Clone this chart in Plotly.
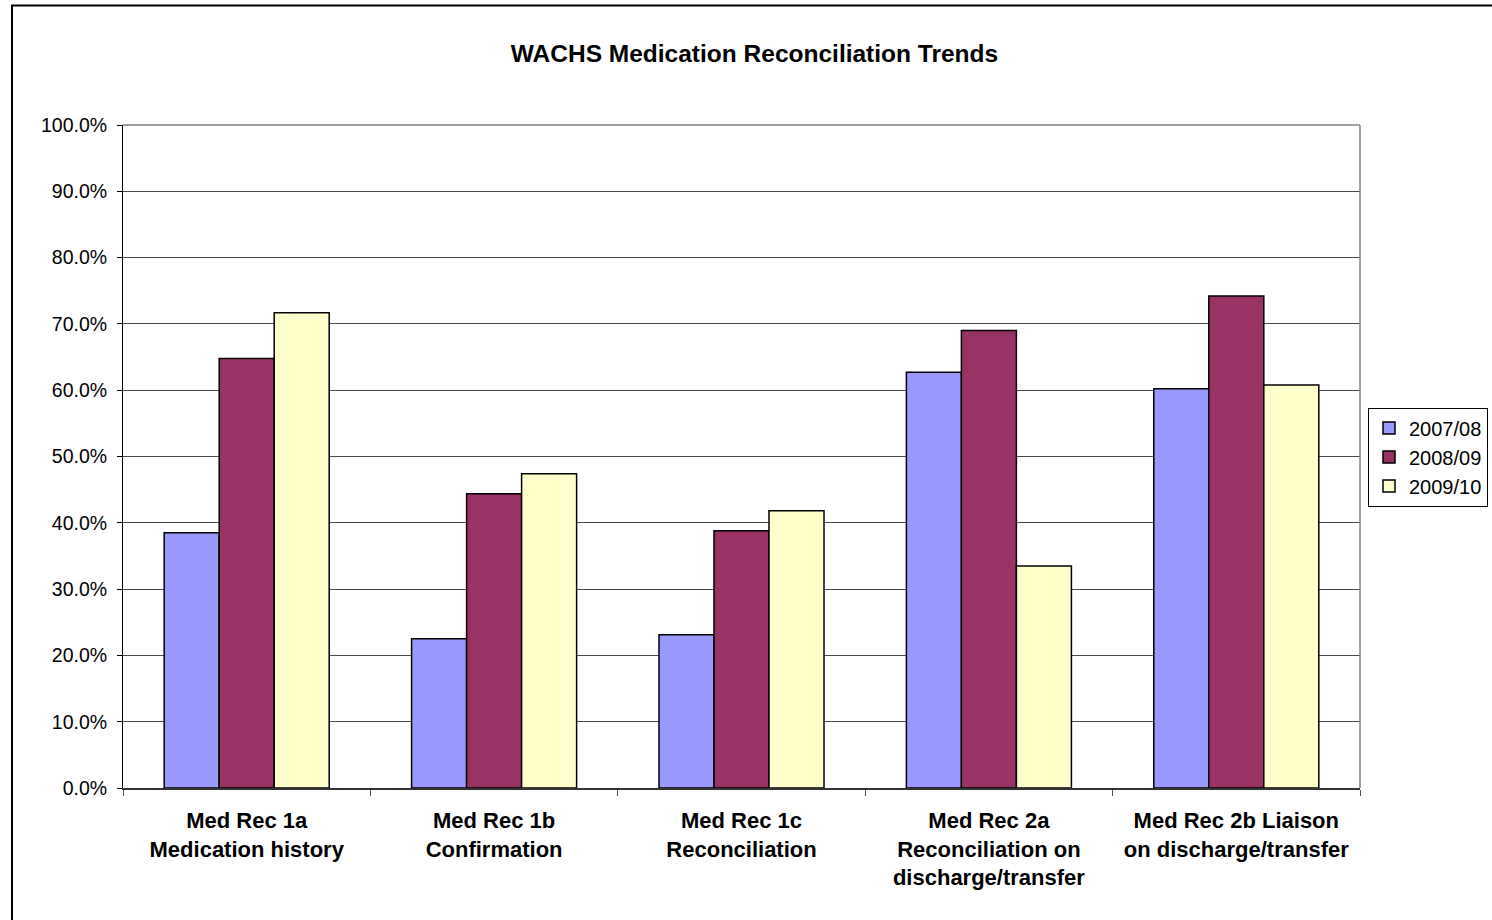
import plotly.graph_objects as go

# Medication reconciliation audit results by indicator and year (% compliant)
categories = [
    "Med Rec 1a<br>Medication history",
    "Med Rec 1b<br>Confirmation",
    "Med Rec 1c<br>Reconciliation",
    "Med Rec 2a<br>Reconciliation on<br>discharge/transfer",
    "Med Rec 2b Liaison<br>on discharge/transfer",
]
years = ["2007/08", "2008/09", "2009/10"]
values_2007_08 = [38.5, 22.5, 23.1, 62.7, 60.2]
values_2008_09 = [64.8, 44.4, 38.8, 69.0, 74.2]
values_2009_10 = [71.7, 47.4, 41.8, 33.5, 60.8]
colors = ["#9999FF", "#993366", "#FFFFCC"]

FONT = "Liberation Sans, Arial, sans-serif"

fig = go.Figure()
for name, vals, col in zip(years, [values_2007_08, values_2008_09, values_2009_10], colors):
    fig.add_trace(go.Bar(
        name=name,
        x=categories,
        y=vals,
        marker=dict(color=col, line=dict(color="#000000", width=1.5)),
    ))

fig.update_layout(
    width=1492,
    height=920,
    margin=dict(l=123, r=132, t=125, b=132, autoexpand=False),
    paper_bgcolor="#FFFFFF",
    plot_bgcolor="#FFFFFF",
    barmode="group",
    bargap=0.333,
    bargroupgap=0,
    font=dict(family=FONT, color="#000000"),
    title=dict(
        text="<b>WACHS Medication Reconciliation Trends</b>",
        font=dict(family=FONT, size=24.5, color="#000000"),
        x=754.5 / 1492, xref="container", xanchor="center",
        y=1 - 53 / 920, yref="container", yanchor="middle",
    ),
    legend=dict(
        x=(1368 - 123) / 1237, xanchor="left",
        y=(788 - 457) / 663, yanchor="middle",
        bordercolor="#000000", borderwidth=1,
        bgcolor="#FFFFFF",
        font=dict(family=FONT, size=20),
        itemwidth=30,
        tracegroupgap=0,
    ),
    showlegend=True,
)

fig.update_yaxes(
    range=[0, 100],
    dtick=10,
    tickformat=".1f",
    ticksuffix="%",
    ticks="outside",
    ticklen=5,
    tickcolor="#000000",
    showline=True,
    linecolor="#000000",
    linewidth=1,
    showgrid=True,
    gridcolor="#4a4a4a",
    gridwidth=1,
    zeroline=False,
    tickfont=dict(family=FONT, size=19.5),
    ticklabelstandoff=6,
)

fig.update_xaxes(
    ticks="outside",
    ticklen=6,
    tickcolor="#555555",
    tickson="boundaries",
    showline=True,
    linecolor="#333333",
    linewidth=1.5,
    tickfont=dict(family=FONT, size=22),
    tickprefix="<b>",
    ticksuffix="</b>",
    ticklabelstandoff=12,
)

# Gray plot-area border along the top and right edges
fig.add_shape(type="line", xref="paper", yref="paper", x0=0, x1=1, y0=1, y1=1,
              line=dict(color="#808080", width=1.5), layer="above")
fig.add_shape(type="line", xref="paper", yref="paper", x0=1, x1=1, y0=0, y1=1,
              line=dict(color="#808080", width=1.5), layer="above")

# Outer chart frame
fig.add_shape(type="rect", xref="paper", yref="paper",
              x0=(12 - 123) / 1237, x1=(1500 - 123) / 1237,
              y0=(788 - 930) / 663, y1=(788 - 5.5) / 663,
              line=dict(color="#000000", width=2), layer="above")

fig.write_html("out.html")
